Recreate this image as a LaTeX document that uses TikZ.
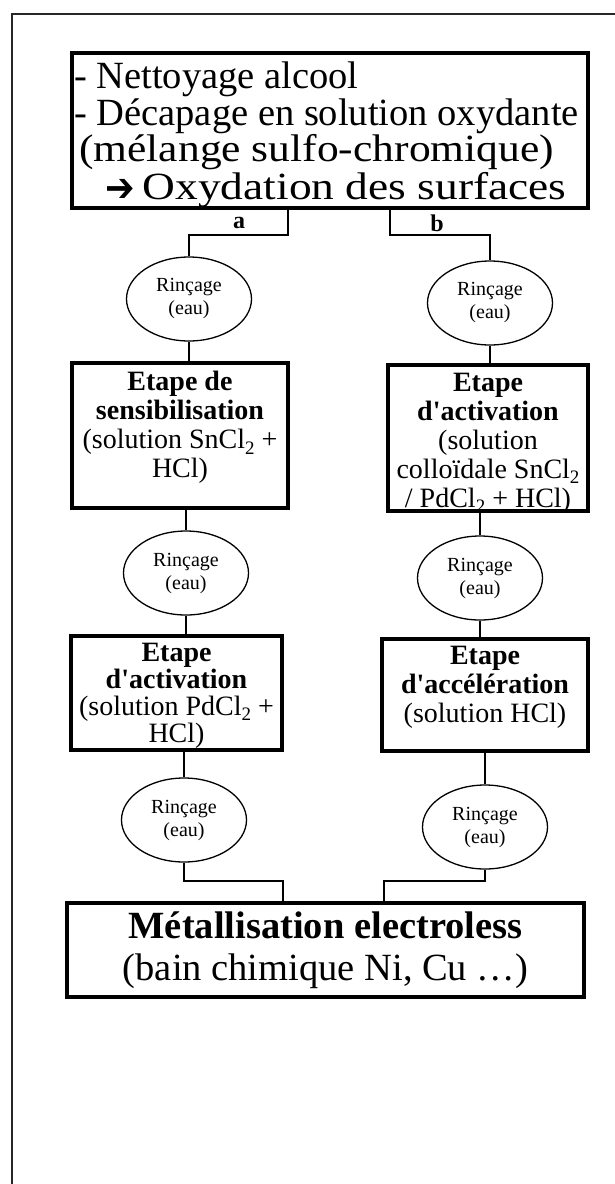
\documentclass[tikz,border=0pt]{standalone}
\usepackage{fontspec}
\setmainfont{Liberation Serif}
\newfontfamily\symf{DejaVu Sans}
\usetikzlibrary{shapes.geometric}
\newcommand\myfs[2]{\fontsize{#1}{#2}\selectfont}
\newcommand\btext[3]{\parbox[c][#1][t]{#2}{\centering #3}}
\newcommand\sbt{\raisebox{-0.2em}{\fontsize{19}{19}\selectfont 2}}
\newcommand\q{\textquotesingle}
\begin{document}
\begin{tikzpicture}[x=1pt,y=-1pt,
  frame/.style={line width=2.2pt, black!85},
  bigbox/.style={draw, line width=3.4pt, inner sep=0pt},
  toptext/.style={anchor=base west, inner sep=0pt, font=\myfs{38.5}{40}},
  stepbox/.style={draw, line width=3.4pt, inner sep=0pt, font=\myfs{28}{29}},
  rin/.style={draw, ellipse, line width=1.3pt, minimum width=125pt, minimum height=84pt, inner sep=0pt, align=center, font=\myfs{20}{23}},
  conn/.style={line width=2.3pt},
  lab/.style={font=\bfseries\myfs{24}{24}, inner sep=0pt}]
\useasboundingbox (0,0) rectangle (615,1184);
\fill[white] (0,0) rectangle (615,1184);
\draw[frame] (12,1184) -- (12,14) -- (615,14);

% top box
\node[bigbox, minimum width=516pt, minimum height=155pt] (top) at (330,130.5) {};
\node[toptext] (t1) at (74,88) {- Nettoyage alcool};
\node[toptext] (t2) at (74,125) {- Décapage en solution oxydante};
\node[toptext] (t3) at (79,161) {\scalebox{1.13}[1]{(mélange sulfo-chromique)}};
\node[toptext] (t4) at (105,199) {\raisebox{-2pt}{\scalebox{1.1}[1.25]{\symf\fontsize{32}{34}\selectfont ➔}}\hspace{8pt}\scalebox{1.18}[1]{Oxydation des surfaces}};

\node[lab] (la) at (239,223) {a};
\node[lab] (lb) at (437,223) {b};

% ellipses
\node[rin] (e1) at (189,299) {Rinçage\\(eau)};
\node[rin] (e2) at (490,303) {Rinçage\\(eau)};
\node[rin] (e3) at (186,573) {Rinçage\\(eau)};
\node[rin] (e4) at (480,578) {Rinçage\\(eau)};
\node[rin] (e5) at (184,820) {Rinçage\\(eau)};
\node[rin] (e6) at (485,827) {Rinçage\\(eau)};

% step boxes
\node[stepbox, minimum width=216pt, minimum height=145pt] (L1) at (180,435.5)
 {\btext{129pt}{212pt}{\textbf{Etape de}\\\textbf{sensibilisation}\\(solution SnCl\sbt{} +\\HCl)}};
\node[stepbox, minimum width=200pt, minimum height=146pt] (R1) at (488,438)
 {\btext{130pt}{198pt}{\textbf{Etape}\\\textbf{d\q{}activation}\\(solution\\colloïdale SnCl\sbt\\/ PdCl\sbt{} + HCl)}};
\node[stepbox, minimum width=211pt, minimum height=114pt, font=\myfs{28}{27}] (L3) at (176.5,693)
 {\btext{100pt}{208pt}{\textbf{Etape}\\\textbf{d\q{}activation}\\(solution PdCl\sbt{} +\\HCl)}};
\node[stepbox, minimum width=206pt, minimum height=112pt] (R3) at (485,695)
 {\btext{98pt}{204pt}{\textbf{Etape}\\\textbf{d\q{}accélération}\\(solution HCl)}};

% bottom box
\node[bigbox, minimum width=517pt, minimum height=94pt, align=center, font=\myfs{38.5}{42}] (bot) at (325.5,950)
 {\textbf{Métallisation electroless}\\(bain chimique Ni, Cu \dots)};

% connectors
\coordinate (xa) at (288,0);
\coordinate (xb) at (390,0);
\coordinate (ya) at (0,235);
\coordinate (xc) at (283,0);
\coordinate (xd) at (384,0);
\coordinate (yb) at (0,881);
\draw[conn] (top.south -| xa) -- (xa |- ya) -- (ya -| e1) -- (e1.north);
\draw[conn] (top.south -| xb) -- (xb |- ya) -- (ya -| e2) -- (e2.north);
\draw[conn] (e1.south) -- (e1.south |- L1.north);
\draw[conn] (e2.south) -- (e2.south |- R1.north);
\draw[conn] (L1.south -| e3) -- (e3.north);
\draw[conn] (R1.south -| e4) -- (e4.north);
\draw[conn] (e3.south) -- (e3.south |- L3.north);
\draw[conn] (e4.south) -- (e4.south |- R3.north);
\draw[conn] (L3.south -| e5) -- (e5.north);
\draw[conn] (R3.south -| e6) -- (e6.north);
\draw[conn] (e5.south) -- (e5.south |- yb) -- (xc |- yb) -- (xc |- bot.north);
\draw[conn] (e6.south) -- (e6.south |- yb) -- (xd |- yb) -- (xd |- bot.north);
\end{tikzpicture}
\end{document}
